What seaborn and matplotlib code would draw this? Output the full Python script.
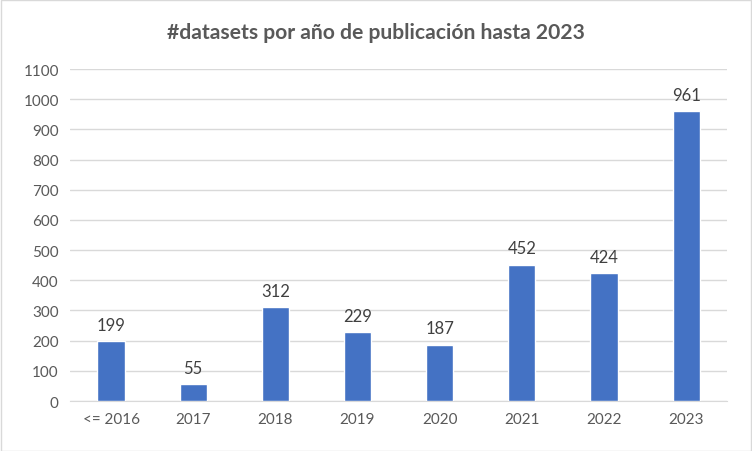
import matplotlib.pyplot as plt
import seaborn as sns
import pandas as pd

years = ["<= 2016", "2017", "2018", "2019", "2020", "2021", "2022", "2023"]
counts = [199, 55, 312, 229, 187, 452, 424, 961]
y_ticks = list(range(0, 1101, 100))

BAR_COLOR = "#4472C4"
TEXT_COLOR = "#595959"

sns.set_style("white")
plt.rcParams["font.family"] = ["Lato", "DejaVu Sans"]

df = pd.DataFrame({"year": years, "count": counts})

fig = plt.figure(figsize=(7.52, 4.52), dpi=100)
ax = fig.add_axes([0.093, 0.1106, 0.874, 0.7344])

sns.barplot(data=df, x="year", y="count", color=BAR_COLOR, width=0.33,
            saturation=1, ax=ax, zorder=3)

ax.set_ylim(0, 1100)
ax.set_yticks(y_ticks)
ax.grid(axis="y", color="#D9D9D9", linewidth=1, zorder=0)
ax.set_axisbelow(True)
for side in ["top", "right", "left"]:
    ax.spines[side].set_visible(False)
ax.spines["bottom"].set_color("#D9D9D9")
ax.tick_params(axis="both", length=0, labelsize=11, colors=TEXT_COLOR, pad=8)
ax.set_xlabel("")
ax.set_ylabel("")

for container in ax.containers:
    ax.bar_label(container, padding=6, fontsize=12, color="#404040")

fig.suptitle("#datasets por año de publicación hasta 2023", x=0.5, y=0.95,
             fontsize=15.2, fontweight="bold", color=TEXT_COLOR)

fig.patches.append(plt.Rectangle((0.001, 0.001), 0.998, 0.997, transform=fig.transFigure,
                                 fill=False, edgecolor="#D9D9D9", linewidth=1))

fig.savefig("out.png", dpi=100)
